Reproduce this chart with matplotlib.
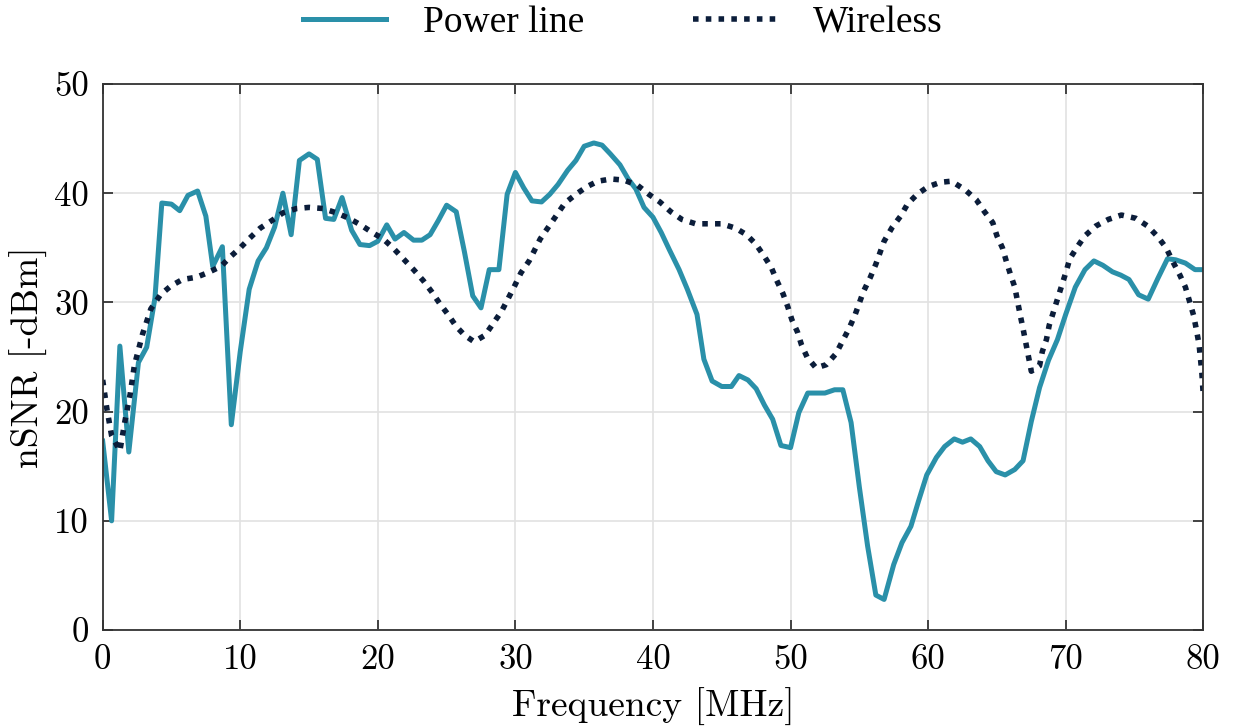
import numpy as np
import matplotlib
matplotlib.use("Agg")
import matplotlib.pyplot as plt

# values (x in MHz, y in -dBm)
power_f = [0, 0.65, 1.25, 1.9, 2.6, 3.2, 3.8, 4.3, 5.0, 5.6,
           6.2, 6.9, 7.5, 8.0, 8.7, 9.35, 10.0, 10.65, 11.3, 11.9,
           12.5, 13.1, 13.7, 14.3, 15.0, 15.6, 16.2, 16.8, 17.4, 18.1,
           18.7, 19.4, 20.0, 20.65, 21.25, 21.9, 22.6, 23.2, 23.8, 24.4,
           25.0, 25.7, 26.3, 26.9, 27.5, 28.1, 28.8, 29.4, 30.0, 30.6,
           31.2, 31.9, 32.5, 33.1, 33.8, 34.4, 35.0, 35.7, 36.3, 36.9,
           37.6, 38.2, 38.75, 39.35, 40.0, 40.6, 41.2, 41.9, 42.5, 43.2,
           43.7, 44.3, 45.0, 45.7, 46.25, 46.9, 47.5, 48.1, 48.7, 49.3,
           50.0, 50.6, 51.25, 51.9, 52.5, 53.2, 53.8, 54.4, 55.0, 55.6,
           56.2, 56.8, 57.5, 58.1, 58.75, 59.3, 59.9, 60.6, 61.2, 61.9,
           62.5, 63.1, 63.75, 64.35, 64.95, 65.6, 66.3, 66.9, 67.5, 68.1,
           68.75, 69.4, 70.0, 70.7, 71.4, 72.05, 72.7, 73.4, 74.0, 74.6,
           75.3, 76.0, 76.7, 77.4, 78.0, 78.7, 79.4, 80.0]
power_snr = [17.3, 10.0, 26.0, 16.3, 24.5, 25.9, 30.4, 39.1, 39.0, 38.4,
             39.8, 40.2, 37.9, 33.3, 35.1, 18.8, 25.5, 31.2, 33.8, 35.0,
             36.9, 40.0, 36.2, 43.0, 43.6, 43.1, 37.7, 37.6, 39.6, 36.6,
             35.3, 35.2, 35.6, 37.1, 35.8, 36.4, 35.7, 35.7, 36.2, 37.5,
             38.9, 38.3, 34.6, 30.6, 29.5, 33.0, 33.0, 39.9, 41.9, 40.5,
             39.3, 39.2, 39.9, 40.8, 42.1, 43.0, 44.3, 44.6, 44.4, 43.6,
             42.6, 41.3, 40.4, 38.7, 37.8, 36.4, 34.8, 33.0, 31.2, 28.9,
             24.8, 22.8, 22.3, 22.3, 23.3, 22.9, 22.1, 20.6, 19.3, 16.9,
             16.7, 19.9, 21.7, 21.7, 21.7, 22.0, 22.0, 19.0, 13.1, 7.7,
             3.2, 2.8, 6.0, 8.0, 9.5, 11.8, 14.2, 15.8, 16.8, 17.5,
             17.2, 17.5, 16.8, 15.5, 14.5, 14.2, 14.7, 15.5, 19.1, 22.2,
             24.7, 26.6, 28.9, 31.4, 33.0, 33.8, 33.4, 32.8, 32.5, 32.1,
             30.7, 30.3, 32.2, 34.0, 33.9, 33.6, 33.0, 33.0]

wireless_f = [0, 0.3, 0.65, 1.25, 1.6, 2.0, 2.3, 2.9, 3.5, 4.2,
              4.95, 5.8, 6.8, 7.6, 8.6, 9.3, 10.0, 10.7, 11.45, 12.3,
              13.1, 14.1, 15.0, 16.0, 17.0, 17.9, 18.75, 19.6, 20.4, 21.1,
              21.85, 22.6, 23.3, 23.9, 24.5, 25.1, 25.7, 26.3, 27.0, 27.8,
              28.4, 29.0, 29.9, 30.4, 31.0, 31.8, 32.4, 33.0, 33.6, 34.4,
              35.2, 36.0, 36.95, 37.9, 38.9, 39.7, 40.5, 41.3, 42.1, 43.1,
              44.0, 45.0, 46.0, 46.8, 47.5, 48.1, 48.6, 49.0, 49.45, 49.8,
              50.1, 50.5, 50.8, 51.2, 51.85, 52.6, 53.3, 53.8, 54.25, 54.7,
              55.3, 55.8, 56.2, 56.8, 57.4, 58.0, 58.5, 59.2, 60.0, 60.9,
              61.7, 62.7, 63.5, 64.1, 64.7, 65.0, 65.4, 65.7, 66.0, 66.3,
              66.5, 66.7, 66.9, 67.1, 67.3, 67.5, 68.1, 68.3, 68.6, 68.8,
              69.1, 69.4, 69.7, 70.0, 70.3, 70.85, 71.4, 72.2, 73.1, 74.05,
              75.1, 75.95, 76.7, 77.3, 77.8, 78.3, 78.7, 79.0, 79.3, 79.5,
              79.7, 79.8, 79.9, 80.0]
wireless_snr = [22.9, 20.3, 17.8, 16.4, 19.0, 21.6, 24.2, 27.1, 29.4, 30.7,
                31.5, 32.1, 32.3, 32.7, 33.3, 34.2, 35.0, 35.9, 36.8, 37.5,
                38.2, 38.6, 38.7, 38.6, 38.2, 37.7, 37.1, 36.4, 35.8, 35.0,
                34.0, 33.0, 32.0, 31.0, 29.9, 28.9, 27.8, 27.0, 26.4, 27.0,
                28.1, 29.2, 31.4, 32.7, 33.8, 35.8, 36.9, 38.0, 39.1, 39.9,
                40.6, 41.1, 41.3, 41.2, 40.7, 39.9, 39.2, 38.3, 37.6, 37.2,
                37.2, 37.2, 36.8, 36.2, 35.3, 34.2, 33.2, 32.0, 30.8, 29.6,
                28.4, 27.3, 26.1, 25.0, 24.0, 24.3, 25.3, 26.5, 27.6, 28.9,
                31.0, 32.3, 33.5, 35.6, 36.9, 37.9, 39.0, 39.9, 40.6, 41.0,
                41.1, 40.3, 39.4, 38.3, 37.3, 36.1, 35.0, 33.7, 32.5, 31.4,
                30.1, 28.8, 27.6, 26.3, 25.0, 23.7, 24.2, 25.5, 26.6, 27.9,
                29.1, 30.3, 31.5, 32.7, 34.0, 35.1, 36.1, 37.0, 37.6, 38.0,
                37.7, 37.0, 36.0, 35.0, 33.7, 32.5, 31.4, 30.1, 28.8, 27.5,
                26.1, 24.8, 23.5, 21.5]

xticks = [0, 10, 20, 30, 40, 50, 60, 70, 80]
yticks = [0, 10, 20, 30, 40, 50]

plt.rcParams['font.family'] = 'cmr10'
plt.rcParams['mathtext.fontset'] = 'cm'
plt.rcParams['axes.unicode_minus'] = False

fig = plt.figure(figsize=(12.34, 7.26), dpi=100)
ax = fig.add_axes([0.0832, 0.1322, 0.8919, 0.7521])

ax.plot(power_f, power_snr, color="#2a90a9", lw=3.6, label="Power line")
ax.plot(wireless_f, wireless_snr, color="#0b1d3a", lw=4.0, ls=(0, (1, 1.3)),
        label="Wireless")

ax.set_xlim(0, 80)
ax.set_ylim(0, 50)
ax.set_xticks(xticks)
ax.set_yticks(yticks)
ax.grid(True, color="#e2e2e2", lw=1.2)
ax.set_axisbelow(True)
for s in ax.spines.values():
    s.set_color("#333333")
    s.set_linewidth(1.3)
ax.tick_params(direction="in", length=7, width=1.2, color="#262626",
               top=True, right=True, labelsize=25, pad=10)
ax.set_xlabel("Frequency [MHz]", fontsize=27, labelpad=9)
ax.set_ylabel("nSNR [-dBm]", fontsize=27, labelpad=4)

ax.legend(loc="center", bbox_to_anchor=(0.505, 0.968),
          bbox_transform=fig.transFigure, ncol=2, frameon=False,
          prop={'family': 'Liberation Serif', 'size': 27},
          handlelength=2.2, handletextpad=1.0, columnspacing=2.9)

fig.savefig("out.png", dpi=100)
